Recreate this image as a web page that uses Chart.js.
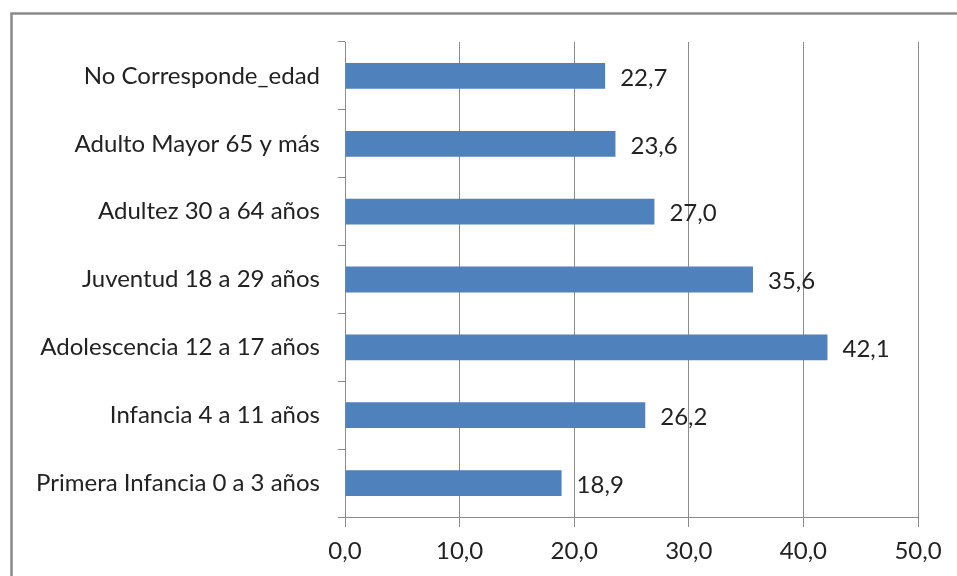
<!DOCTYPE html>
<html>
<head>
<meta charset="utf-8">
<script src="https://cdn.jsdelivr.net/npm/chart.js@4/dist/chart.umd.min.js"></script>
<style>
html,body{margin:0;padding:0;background:#fff;}
#wrap{position:relative;width:957px;height:576px;}
</style>
</head>
<body>
<div id="wrap"><canvas id="c" width="957" height="576"></canvas></div>
<script>
const categories = [
  "No Corresponde_edad",
  "Adulto Mayor 65 y más",
  "Adultez 30 a 64 años",
  "Juventud 18 a 29 años",
  "Adolescencia 12 a 17 años",
  "Infancia 4 a 11 años",
  "Primera Infancia 0 a 3 años"
];
const values = [22.7, 23.6, 27.0, 35.6, 42.1, 26.2, 18.9];
const xTicks = [0, 10, 20, 30, 40, 50];

const FONT = "Lato, 'Open Sans', sans-serif";
const FSIZE = 24;
const fmt = v => Number(v).toFixed(1).replace('.', ',');

const framePlugin = {
  id: 'frame',
  beforeDraw(chart) {
    const ctx = chart.ctx;
    ctx.save();
    ctx.strokeStyle = '#8a8a8a';
    ctx.lineWidth = 2.5;
    ctx.beginPath();
    ctx.moveTo(11.5, 600);
    ctx.lineTo(11.5, 13.5);
    ctx.lineTo(960, 13.5);
    ctx.stroke();
    ctx.restore();
  }
};

const labelPlugin = {
  id: 'valueLabels',
  afterDatasetsDraw(chart) {
    const ctx = chart.ctx;
    const meta = chart.getDatasetMeta(0);
    ctx.save();
    ctx.font = FSIZE + "px " + FONT;
    ctx.fillStyle = '#222';
    ctx.textAlign = 'left';
    ctx.textBaseline = 'middle';
    meta.data.forEach((bar, i) => {
      ctx.fillText(fmt(chart.data.datasets[0].data[i]), bar.x + 15, bar.y + 2);
    });
    ctx.restore();
  }
};

new Chart(document.getElementById('c'), {
  type: 'bar',
  data: {
    labels: categories,
    datasets: [{
      data: values,
      backgroundColor: '#4F81BD',
      borderWidth: 0,
      barPercentage: 0.76,
      categoryPercentage: 0.5
    }]
  },
  options: {
    indexAxis: 'y',
    responsive: false,
    animation: false,
    layout: { padding: { left: 0, top: 42, right: 39, bottom: 0 } },
    plugins: { legend: { display: false }, tooltip: { enabled: false } },
    scales: {
      x: {
        min: 0, max: 50,
        afterBuildTicks(scale) { scale.ticks = xTicks.map(v => ({ value: v })); },
        afterFit(scale) { scale.height = 59; },
        grid: { color: '#8c8c8c', lineWidth: 1, drawTicks: true, tickLength: 10, tickColor: '#8c8c8c' },
        border: { display: true, color: '#8c8c8c', width: 1 },
        ticks: {
          font: { family: FONT, size: FSIZE },
          color: '#222',
          padding: 10,
          maxRotation: 0,
          callback: v => fmt(v)
        }
      },
      y: {
        afterFit(scale) { scale.width = 345; },
        grid: { offset: true, drawOnChartArea: false, drawTicks: true, tickLength: 7, tickColor: '#8c8c8c', color: '#8c8c8c' },
        border: { display: true, color: '#8c8c8c', width: 1 },
        ticks: {
          font: { family: FONT, size: FSIZE },
          color: '#222',
          padding: 18
        }
      }
    }
  },
  plugins: [framePlugin, labelPlugin]
});
</script>
</body>
</html>
